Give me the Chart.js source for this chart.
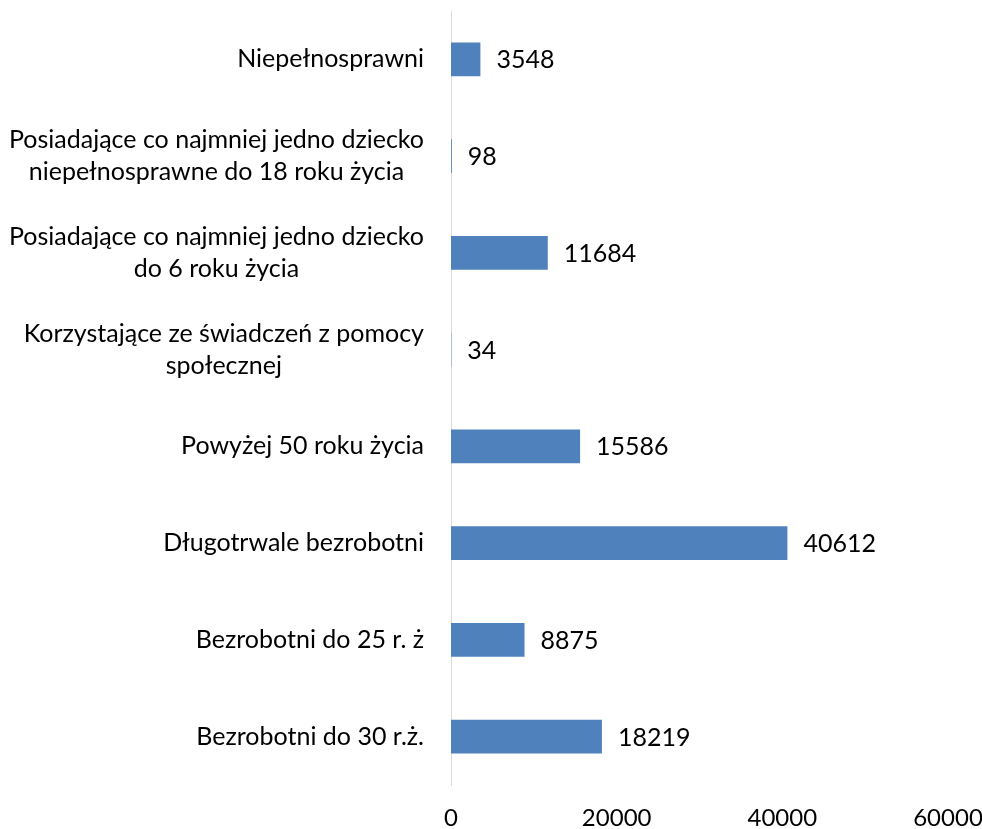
<!DOCTYPE html>
<html lang="pl">
<head>
<meta charset="utf-8">
<title>Wykres</title>
<script src="https://cdn.jsdelivr.net/npm/chart.js@4"></script>
<style>
  html, body { margin: 0; padding: 0; background: #fff; }
  #wrap { width: 982px; height: 829px; position: relative; }
</style>
</head>
<body>
<div id="wrap"><canvas id="chartMain"></canvas></div>
<script>
// ===== DATA =====
const categories = [
  ['Niepełnosprawni'],
  ['Posiadające co najmniej jedno dziecko', 'niepełnosprawne do 18 roku życia'],
  ['Posiadające co najmniej jedno dziecko', 'do 6 roku życia'],
  ['Korzystające ze świadczeń z pomocy', 'społecznej'],
  ['Powyżej 50 roku życia'],
  ['Długotrwale bezrobotni'],
  ['Bezrobotni do 25 r. ż'],
  ['Bezrobotni do 30 r.ż.'],
];
const values = [3548, 98, 11684, 34, 15586, 40612, 8875, 18219];
const xTicks = [0, 20000, 40000, 60000];

const FONT = 'Lato, "Open Sans", sans-serif';
const TEXT = '#000000';

// ===== LABEL KATEGORII (wyrównanie jak w Excelu) =====
const categoryLabels = {
  id: 'categoryLabels',
  afterDraw(chart) {
    const ctx = chart.ctx;
    const yScale = chart.scales.y;
    const right = chart.chartArea.left - 27;
    const lh = 32;
    ctx.save();
    ctx.font = '25px ' + FONT;
    ctx.fillStyle = TEXT;
    ctx.textAlign = 'center';
    ctx.textBaseline = 'middle';
    categories.forEach((lines, i) => {
      const y = yScale.getPixelForTick(i);
      const maxW = Math.max(...lines.map(l => ctx.measureText(l).width));
      const cx = right - maxW / 2;
      lines.forEach((l, j) => {
        ctx.fillText(l, cx, y + (j - (lines.length - 1) / 2) * lh);
      });
    });
    ctx.restore();
  },
};

// ===== ETYKIETY WARTOŚCI =====
const valueLabels = {
  id: 'valueLabels',
  afterDatasetsDraw(chart) {
    const ctx = chart.ctx;
    const meta = chart.getDatasetMeta(0);
    ctx.save();
    ctx.font = '25px ' + FONT;
    ctx.fillStyle = TEXT;
    ctx.textAlign = 'left';
    ctx.textBaseline = 'middle';
    meta.data.forEach((bar, i) => {
      ctx.fillText(String(values[i]), bar.x + 16, bar.y + 1);
    });
    ctx.restore();
  },
};

const ctxMain = document.getElementById('chartMain').getContext('2d');

const mainChart = new Chart(ctxMain, {
  type: 'bar',
  data: {
    labels: categories,
    datasets: [{
      data: values,
      backgroundColor: '#4f81bd',
      borderWidth: 0,
      barPercentage: 0.35,
      categoryPercentage: 1,
    }],
  },
  options: {
    indexAxis: 'y',
    responsive: true,
    maintainAspectRatio: false,
    animation: false,
    layout: { padding: { top: 11, right: 34, bottom: 0, left: 0 } },
    plugins: {
      legend: { display: false },
      tooltip: { enabled: false },
    },
    scales: {
      x: {
        min: xTicks[0],
        max: xTicks[xTicks.length - 1],
        afterBuildTicks: (scale) => { scale.ticks = xTicks.map(v => ({ value: v })); },
        afterFit: (scale) => {
          scale.height = 44;
          scale.paddingLeft = 0;
          scale.paddingRight = 0;
        },
        grid: { display: false, drawTicks: false },
        border: { display: false },
        ticks: {
          padding: 19,
          color: TEXT,
          font: { family: FONT, size: 24 },
          maxRotation: 0,
          callback: (v) => String(v),
        },
      },
      y: {
        afterFit: (scale) => { scale.width = 451; },
        grid: { display: false, drawTicks: false },
        border: { display: true, color: '#d9d9d9', width: 1 },
        ticks: { display: false },
      },
    },
  },
  plugins: [categoryLabels, valueLabels],
});
</script>
</body>
</html>
